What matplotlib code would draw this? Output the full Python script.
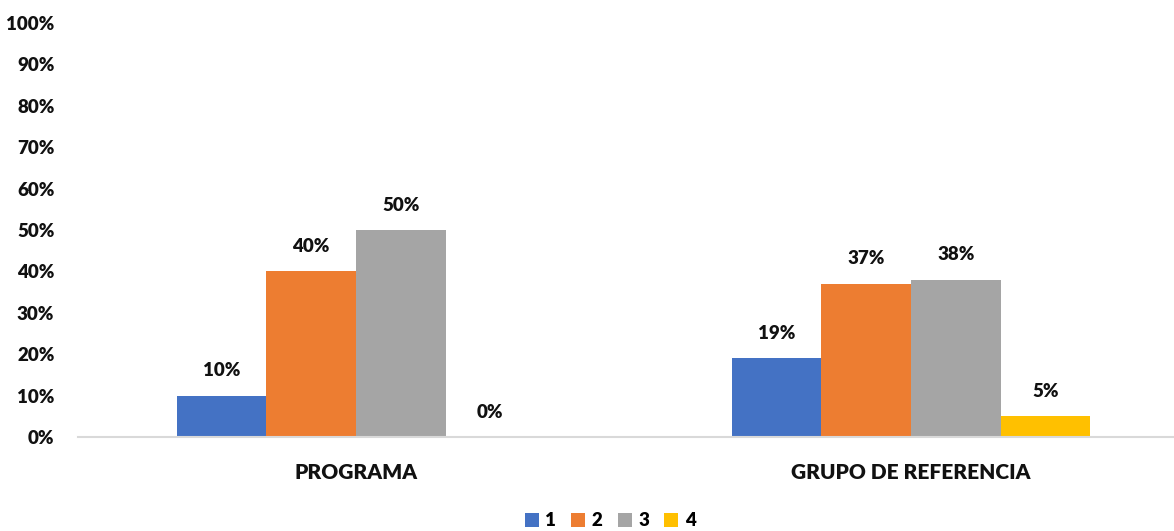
import matplotlib
matplotlib.use("Agg")
import matplotlib.pyplot as plt
import numpy as np

categories = ["PROGRAMA", "GRUPO DE REFERENCIA"]
series_names = ["1", "2", "3", "4"]
values = {
    "1": [10, 19],
    "2": [40, 37],
    "3": [50, 38],
    "4": [0, 5],
}
colors = ["#4472C4", "#ED7D31", "#A5A5A5", "#FFC000"]
yticks = [0, 10, 20, 30, 40, 50, 60, 70, 80, 90, 100]

plt.rcParams['font.family'] = ['Lato', 'DejaVu Sans']
W, H = 1174, 531
fig = plt.figure(figsize=(W / 100, H / 100), dpi=100)
ax = fig.add_axes([78 / W, 1 - 437 / H, (1174 - 78) / W, (437 - 23) / H])

x = np.arange(len(categories))
w = 0.1613
for i, name in enumerate(series_names):
    off = (i - 1.5) * w
    bars = ax.bar(x + off, values[name], width=w, color=colors[i], label=name, zorder=2)
    for xi, v in zip(x + off, values[name]):
        ax.annotate(f"{v}%", (xi, v), xytext=(0, 18), textcoords="offset points",
                    ha="center", va="center", fontsize=13.5, fontweight="heavy", color="#111111")

ax.set_xlim(-0.5009, 1.4739)
ax.set_ylim(0, 100)
ax.set_yticks(yticks)
ax.set_yticklabels([f"{t}%" for t in yticks], fontsize=13.5, fontweight="heavy", color="#111111")
ax.set_xticks(x)
ax.set_xticklabels(categories, fontsize=15, fontweight="heavy", color="#111111")
ax.tick_params(axis="both", length=0)
ax.tick_params(axis="y", pad=17)
ax.tick_params(axis="x", pad=19)
for s in ["top", "right", "left"]:
    ax.spines[s].set_visible(False)
ax.spines["bottom"].set_color("#D9D9D9")
ax.spines["bottom"].set_linewidth(1.5)

leg = fig.legend(loc="center", bbox_to_anchor=(610 / W, 1 - 521 / H), ncol=4, frameon=False,
                 prop={"weight": "heavy", "size": 13.5}, handlelength=0.75, handleheight=0.75,
                 handletextpad=0.35, columnspacing=0.8)
fig.savefig("out.png", dpi=100)
